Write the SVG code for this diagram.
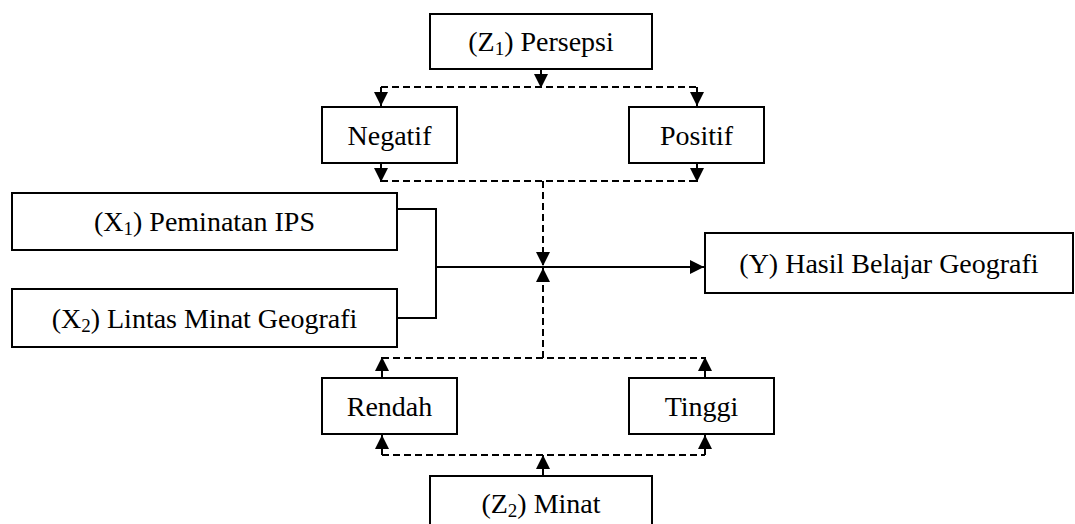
<svg xmlns="http://www.w3.org/2000/svg" width="1075" height="524" viewBox="0 0 1075 524">
<style>
.box{fill:#fff;stroke:#000;stroke-width:2}
.t{font-family:"Liberation Serif","Times New Roman",serif;font-size:28px;fill:#000;text-anchor:middle}
.s{font-size:19px}
.ln{fill:none;stroke:#000;stroke-width:2}
.d{stroke-dasharray:7 4}
</style>
<defs>
<marker id="ah" markerUnits="userSpaceOnUse" markerWidth="16" markerHeight="16" viewBox="0 0 16 16" refX="14" refY="8" orient="auto">
<path d="M0,1 L14,8 L0,15 Z" fill="#000"/>
</marker>
</defs>
<rect width="1075" height="524" fill="#fff"/>
<g id="connectors">
<line class="ln" x1="541" y1="69" x2="541" y2="88" marker-end="url(#ah)"/>
<line class="ln d" x1="381" y1="87" x2="697" y2="87"/>
<line class="ln" x1="381" y1="87" x2="381" y2="106" marker-end="url(#ah)"/>
<line class="ln" x1="697" y1="87" x2="697" y2="106" marker-end="url(#ah)"/>
<line class="ln" x1="381" y1="163" x2="381" y2="182" marker-end="url(#ah)"/>
<line class="ln" x1="697" y1="163" x2="697" y2="182" marker-end="url(#ah)"/>
<line class="ln d" x1="381" y1="181" x2="697" y2="181"/>
<line class="ln d" x1="543" y1="181" x2="543" y2="266" marker-end="url(#ah)"/>
<polyline class="ln" points="397,209 436,209 436,318 397,318"/>
<line class="ln" x1="436" y1="267" x2="704" y2="267" marker-end="url(#ah)"/>
<line class="ln d" x1="543" y1="358" x2="543" y2="268" marker-end="url(#ah)"/>
<line class="ln d" x1="382" y1="358" x2="705" y2="358"/>
<line class="ln" x1="382" y1="378" x2="382" y2="357" marker-end="url(#ah)"/>
<line class="ln" x1="705" y1="378" x2="705" y2="357" marker-end="url(#ah)"/>
<line class="ln d" x1="382" y1="455" x2="705" y2="455"/>
<line class="ln" x1="382" y1="455" x2="382" y2="435" marker-end="url(#ah)"/>
<line class="ln" x1="705" y1="455" x2="705" y2="435" marker-end="url(#ah)"/>
<line class="ln" x1="543" y1="476" x2="543" y2="455" marker-end="url(#ah)"/>
</g>
<g id="z1"><rect class="box" x="430" y="14" width="222" height="55"/><text class="t" x="541" y="51">(Z<tspan class="s" dy="4">1</tspan><tspan dy="-4">) Persepsi</tspan></text></g>
<g id="negatif"><rect class="box" x="322" y="107" width="135" height="56"/><text class="t" x="389.5" y="145">Negatif</text></g>
<g id="positif"><rect class="box" x="629" y="107" width="135" height="56"/><text class="t" x="696.5" y="145">Positif</text></g>
<g id="x1"><rect class="box" x="12" y="193" width="385" height="57"/><text class="t" x="204.5" y="231">(X<tspan class="s" dy="4">1</tspan><tspan dy="-4">) Peminatan IPS</tspan></text></g>
<g id="x2"><rect class="box" x="12" y="289" width="385" height="58"/><text class="t" x="204.5" y="328">(X<tspan class="s" dy="4">2</tspan><tspan dy="-4">) Lintas Minat Geografi</tspan></text></g>
<g id="y"><rect class="box" x="705" y="233" width="368" height="60"/><text class="t" x="889" y="273">(Y) Hasil Belajar Geografi</text></g>
<g id="rendah"><rect class="box" x="322" y="378" width="135" height="56"/><text class="t" x="389.5" y="416">Rendah</text></g>
<g id="tinggi"><rect class="box" x="629" y="378" width="145" height="56"/><text class="t" x="701.5" y="416">Tinggi</text></g>
<g id="z2"><rect class="box" x="430" y="476" width="222" height="60"/><text class="t" x="541" y="513">(Z<tspan class="s" dy="4">2</tspan><tspan dy="-4">) Minat</tspan></text></g>
</svg>
